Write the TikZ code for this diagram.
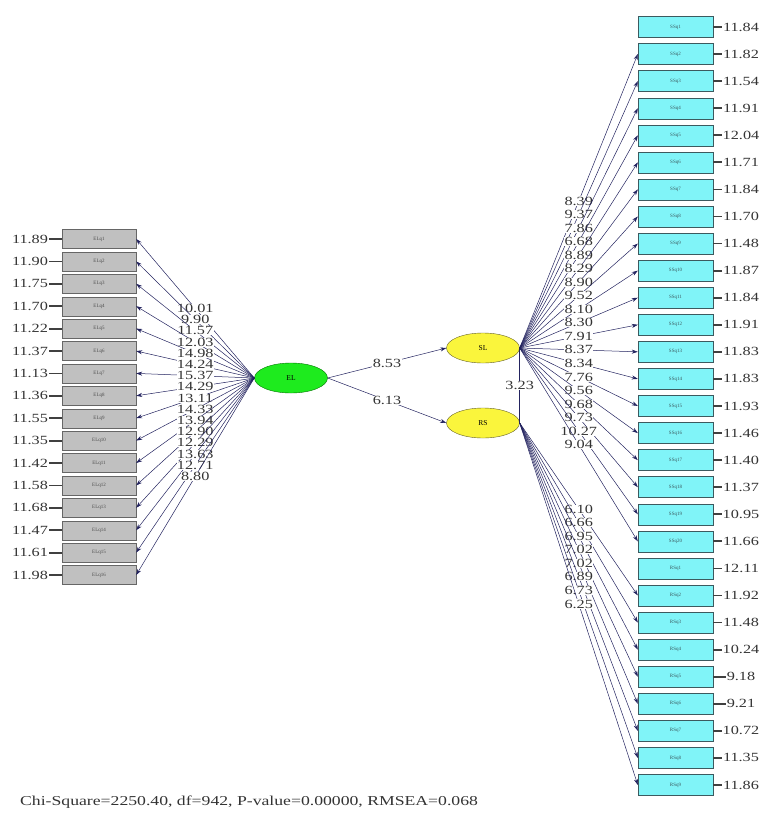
\documentclass[tikz,border=0pt]{standalone}
\usepackage{fontspec}
\setmainfont{Liberation Serif}
\newfontfamily\statfont{Liberation Serif}[FakeStretch=1.3]
\usepackage{xcolor}
\usetikzlibrary{
	arrows.meta,
	positioning,
	shapes.geometric
}
\definecolor{pathcol}{RGB}{35,35,95}
\definecolor{elboxcol}{RGB}{192,192,192}
\definecolor{ssboxcol}{RGB}{128,244,248}
\definecolor{ssdrawcol}{RGB}{60,90,95}
\definecolor{elfillcol}{RGB}{30,235,30}
\definecolor{yellowcol}{RGB}{250,245,60}

\begin{document}
\begin{tikzpicture}[
		x=1pt, y=-1pt,
		>={Stealth[length=6pt,width=4pt]},
		obsleft/.style={
			draw=black!60,
			fill=elboxcol,
			minimum width=74pt,
			minimum height=19pt,
			inner sep=0pt,
			text=black!70,
			font=\fontsize{5}{5}\selectfont
		},
		obsright/.style={
			draw=ssdrawcol,
			fill=ssboxcol,
			minimum width=75pt,
			minimum height=21pt,
			inner sep=0pt,
			text=ssdrawcol,
			font=\fontsize{5}{5}\selectfont
		},
		latent/.style={
			ellipse,
			draw,
			minimum width=73pt,
			minimum height=30pt,
			inner sep=0pt,
			font=\fontsize{7.5}{7.5}\selectfont
		},
		tval/.style={
			fill=white,
			inner sep=0.3pt,
			text=black!80,
			font=\statfont\fontsize{12.5}{12}\selectfont
		},
		errval/.style={
			inner sep=1pt,
			text=black!80,
			font=\statfont\fontsize{12.5}{12}\selectfont
		},
		loading/.style={->, pathcol, line width=0.5pt},
		errline/.style={line width=1.8pt, black!75}
		]
		
		\useasboundingbox (0,0) rectangle (766,817);
		
		% EL indicators
		\foreach \e [count=\i] in {11.89,11.90,11.75,11.70,11.22,11.37,11.13,11.36,11.55,11.35,11.42,11.58,11.68,11.47,11.61,11.98}{
			\node[obsleft] (el\i) at (99,{239+22.4*(\i-1)}) {ELq\i};
			\node[errval] (elerr\i) at (30,{239+22.4*(\i-1)}) {\e};
			\draw[errline] (elerr\i.east) -- (el\i.west);
		}
		
		% SL indicators
		\foreach \e [count=\i] in {11.84,11.82,11.54,11.91,12.04,11.71,11.84,11.70,11.48,11.87,11.84,11.91,11.83,11.83,11.93,11.46,11.40,11.37,10.95,11.66}{
			\node[obsright] (ss\i) at (675.5,{27+27.07*(\i-1)}) {SSq\i};
			\node[errval] (sserr\i) at (741,{27+27.07*(\i-1)}) {\e};
			\draw[errline] (sserr\i.west) -- (ss\i.east);
		}
		
		% RS indicators
		\foreach \e [count=\i] in {12.11,11.92,11.48,10.24,9.18,9.21,10.72,11.35,11.86}{
			\node[obsright] (rs\i) at (675.5,{27+27.07*(\i+19)}) {RSq\i};
			\node[errval] (rserr\i) at (741,{27+27.07*(\i+19)}) {\e};
			\draw[errline] (rserr\i.west) -- (rs\i.east);
		}
		
		% Latent variables
		\node[latent, fill=elfillcol, draw=green!45!black] (EL) at (291,378) {EL};
		\node[latent, fill=yellowcol, draw=olive!60!black] (SL) at (483,348) {SL};
		\node[latent, fill=yellowcol, draw=olive!60!black] (RS) at (483,423) {RS};
		
		% Loadings
		\foreach \t [count=\i] in {10.01,9.90,11.57,12.03,14.98,14.24,15.37,14.29,13.11,14.33,13.94,12.90,12.29,13.63,12.71,8.80}
		\draw[loading] (EL.west) -- node[tval] {\t} (el\i.east);
		
		\foreach \t [count=\i from 2] in {8.39,9.37,7.86,6.68,8.89,8.29,8.90,9.52,8.10,8.30,7.91,8.37,8.34,7.76,9.56,9.68,9.73,10.27,9.04}
		\draw[loading] (SL.east) -- node[tval] {\t} (ss\i.west);
		
		\foreach \t [count=\i from 2] in {6.10,6.66,6.95,7.02,7.02,6.89,6.73,6.25}
		\draw[loading] (RS.east) -- node[tval] {\t} (rs\i.west);
		
		% Structural paths
		\draw[loading] (EL.east) -- node[tval] {8.53} (SL.west);
		\draw[loading] (EL.east) -- node[tval] {6.13} (RS.west);
		\draw[pathcol, line width=0.5pt] (SL.east) -- node[tval] {3.23} (RS.east);
		
		\node[anchor=west, inner sep=0pt, text=black!80, font=\statfont\fontsize{13.6}{13}\selectfont] (fit) at (20,802) {Chi-Square=2250.40, df=942, P-value=0.00000, RMSEA=0.068};
		
	\end{tikzpicture}
\end{document}
